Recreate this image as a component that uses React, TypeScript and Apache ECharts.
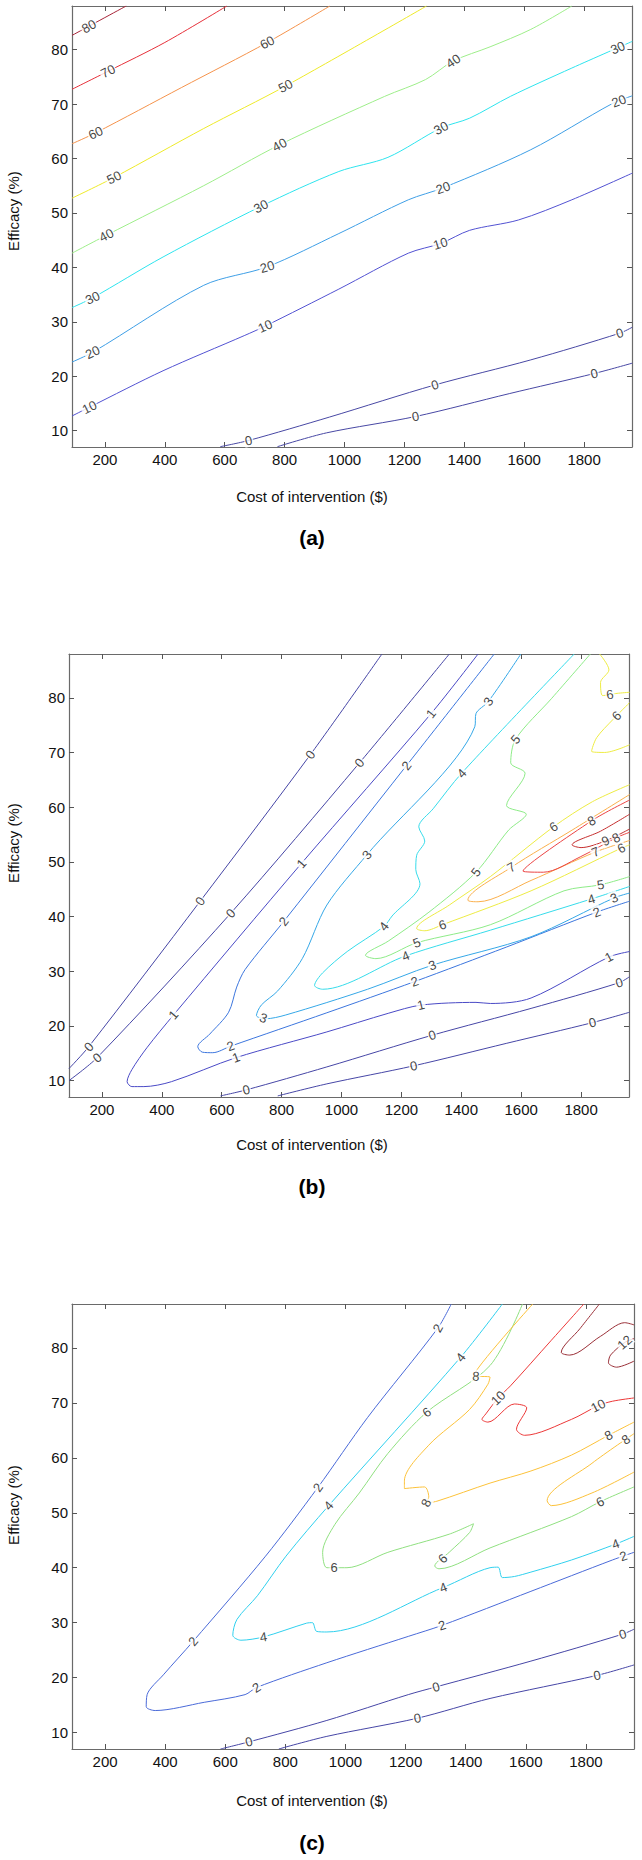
import React, { useEffect, useRef } from 'react';
import * as echarts from 'echarts';

const FONT = 'Liberation Sans, Arial, Helvetica, sans-serif';

// axes
const xTicks = [200, 400, 600, 800, 1000, 1200, 1400, 1600, 1800];
const yTicks = [10, 20, 30, 40, 50, 60, 70, 80];
const xMin = 90, xMax = 1960, yMin = 7, yMax = 88;
const xTitle = 'Cost of intervention ($)';
const yTitle = 'Efficacy (%)';
const panelNames = ['(a)', '(b)', '(c)'];

// ---------- panel (a) ----------
const a0u = [[585, 7.06], [680, 8.2], [950, 12.5], [1302, 18.4], [1622, 23.0], [1919, 27.9], [1961, 29.0]];
const a0l = [[776, 7.06], [940, 9.6], [1237, 12.6], [1550, 16.8], [1834, 20.5], [1961, 22.4]];
const a10 = [[90, 12.7], [148, 14.3], [394, 21.0], [667, 27.5], [735, 29.2], [981, 36.0], [1213, 42.6], [1322, 44.4], [1418, 46.8], [1581, 48.7], [1759, 52.4], [1961, 57.3]];
const a20 = [[90, 22.6], [159, 24.4], [530, 36.7], [742, 40.1], [981, 46.2], [1213, 52.4], [1329, 54.6], [1622, 61.6], [1895, 70.1], [1961, 71.5]];
const a30 = [[90, 32.6], [159, 34.4], [394, 41.9], [721, 51.2], [981, 57.6], [1145, 60.2], [1322, 65.6], [1418, 67.4], [1554, 71.4], [1759, 76.6], [1961, 81.5]];
const a40 = [[90, 42.6], [205, 45.9], [530, 55.0], [783, 62.5], [1134, 71.4], [1271, 74.5], [1363, 77.9], [1486, 80.5], [1622, 83.7], [1759, 88]];
const a50 = [[90, 52.7], [230, 56.5], [530, 65.5], [803, 73.3], [1274, 88]];
const a60 = [[90, 62.7], [169, 64.7], [455, 73.0], [742, 81.3], [951, 88]];
const a70 = [[90, 72.7], [210, 76.0], [400, 81.3], [607, 88]];
const a80 = [[90, 82.6], [271, 88]];
const aLines = [[0, a0u], [0, a0l], [10, a10], [20, a20], [30, a30], [40, a40], [50, a50], [60, a60], [70, a70], [80, a80]];
const aLabels = [
  [680, 8.2, 0], [1302, 18.4, 0], [1919, 27.9, 0], [1237, 12.6, 0], [1834, 20.5, 0],
  [148, 14.3, 10], [735, 29.2, 10], [1322, 44.0, 10],
  [159, 24.4, 20], [742, 40.1, 20], [1329, 54.6, 20], [1916, 70.6, 20],
  [159, 34.4, 30], [721, 51.2, 30], [1322, 65.6, 30], [1916, 79.9, 30],
  [205, 45.9, 40], [783, 62.5, 40], [1363, 77.9, 40],
  [230, 56.5, 50], [803, 73.3, 50],
  [169, 64.7, 60], [742, 81.3, 60],
  [210, 76.0, 70],
  [148, 84.1, 80],
];
const aColors = { 0: '#4848a4', 10: '#5252d2', 20: '#3f9fe6', 30: '#2ee4ee', 40: '#9eee8a', 50: '#eeea2a', 60: '#f5934c', 70: '#e6303a', 80: '#a8263a' };

// ---------- panel (b) ----------
const b0a = [[90, 12.2], [156, 16.2], [528, 42.8], [896, 69.6], [1135, 88]];
const b0b = [[90, 10.0], [184, 14.2], [630, 40.6], [1060, 68.1], [1360, 88]];
const b0u = [[596, 7.2], [682, 8.3], [951, 12.5], [1303, 18.3], [1633, 23.2], [1927, 27.9], [1962, 29.0]];
const b0l = [[787, 7.2], [951, 9.4], [1241, 12.7], [1550, 16.8], [1838, 20.6], [1962, 22.5]];
const b1 = [[1456, 88], [1299, 77.1], [866, 49.7], [439, 22.0], [350, 16.0], [300, 12.0], [284, 9.8], [300, 8.9], [340, 8.9], [432, 9.8], [648, 14.2], [951, 18.9], [1156, 22.3], [1265, 23.8], [1449, 24.3], [1497, 24.1], [1633, 25.1], [1893, 32.6], [1962, 33.6]];
const b2 = [[1510, 88], [1217, 67.6], [807, 39.1], [678, 30.3], [650, 27.1], [623, 22.5], [560, 18.5], [520, 16.2], [535, 15.2], [570, 15.1], [630, 16.3], [951, 22.4], [1244, 28.1], [1550, 34.4], [1852, 40.8], [1962, 42.8]];
const b3 = [[1599, 88], [1490, 79.3], [1449, 77.1], [1445, 74.7], [1085, 51.3], [951, 42.1], [869, 32.3], [787, 26.4], [732, 23.8], [716, 21.9], [746, 21.3], [814, 22.0], [1087, 26.7], [1303, 31.1], [1633, 36.3], [1910, 43.4], [1962, 44.3]];
const b4 = [[1777, 88], [1401, 66.2], [1306, 59.7], [1258, 56.4], [1278, 53.8], [1251, 51.2], [1248, 48.6], [1262, 46.0], [1169, 40.1], [1142, 38.2], [1019, 33.6], [937, 29.7], [910, 27.4], [937, 26.7], [1214, 32.8], [1497, 37.5], [1834, 43.2], [1962, 45.5]];
const b5 = [[1831, 88], [1702, 79.9], [1581, 72.4], [1565, 68.1], [1613, 66.2], [1551, 60.3], [1617, 58.7], [1558, 55.8], [1449, 48.1], [1292, 40.8], [1156, 35.5], [1080, 32.9], [1115, 32.3], [1251, 35.2], [1497, 38.5], [1743, 44.7], [1865, 45.8], [1962, 47.3]];
const b6 = [[1962, 64.1], [1838, 61.0], [1708, 56.4], [1497, 47.3], [1360, 42.1], [1251, 37.8], [1278, 37.4], [1337, 38.5], [1633, 44.7], [1934, 52.5], [1962, 53.1]];
const b6a = [[1862, 88], [1893, 85.1], [1865, 82.8], [1872, 80.4], [1920, 80.8], [1962, 81.0]];
const b6b = [[1962, 79.1], [1906, 76.0], [1852, 72.7], [1835, 70.2], [1879, 70.0], [1962, 71.4]];
const b7 = [[1962, 62.3], [1770, 55.8], [1567, 49.0], [1422, 43.0], [1456, 42.7], [1633, 46.6], [1848, 51.8], [1962, 53.9]];
const b8 = [[1962, 61.3], [1835, 57.5], [1606, 48.3], [1674, 48.1], [1797, 50.9], [1917, 54.4], [1962, 55.4]];
const b9 = [[1962, 58.7], [1865, 55.6], [1770, 53.1], [1800, 52.6], [1880, 53.8], [1962, 56.0]];
const bLines = [[0, b0a], [0, b0b], [0, b0u], [0, b0l], [1, b1], [2, b2], [3, b3], [4, b4], [5, b5], [6, b6], [6, b6a], [6, b6b], [7, b7], [8, b8], [9, b9]];
const bLabels = [
  [156, 16.2, 0], [528, 42.8, 0], [896, 69.6, 0], [184, 14.2, 0], [630, 40.6, 0], [1060, 68.1, 0],
  [682, 8.3, 0], [1303, 18.3, 0], [1927, 27.9, 0], [1241, 12.7, 0], [1838, 20.6, 0],
  [1299, 77.1, 1], [866, 49.7, 1], [439, 22.0, 1], [648, 14.2, 1], [1265, 23.8, 1], [1893, 32.6, 1],
  [1217, 67.6, 2], [807, 39.1, 2], [630, 16.3, 2], [1244, 28.1, 2], [1852, 40.8, 2],
  [1490, 79.3, 3], [1085, 51.3, 3], [746, 22.4, 3], [1303, 31.1, 3], [1910, 43.4, 3],
  [1401, 66.2, 4], [1142, 38.2, 4], [1214, 32.8, 4], [1834, 43.2, 4],
  [1581, 72.4, 5], [1449, 48.1, 5], [1251, 35.2, 5], [1865, 45.8, 5],
  [1708, 56.4, 6], [1337, 38.5, 6], [1934, 52.5, 6], [1899, 79.7, 6], [1920, 76.6, 6],
  [1567, 49.0, 7], [1848, 51.8, 7],
  [1835, 57.5, 8], [1917, 54.4, 8],
  [1875, 54.6, 9],
];
const bColors = { 0: '#4646a6', 1: '#4a4ac6', 2: '#3c76de', 3: '#35a8e8', 4: '#36dceb', 5: '#8eec88', 6: '#eeec44', 7: '#fbb04c', 8: '#ec4444', 9: '#c62e2e' };

// ---------- panel (c) ----------
const c0u = [[584, 7.0], [679, 8.3], [938, 12.2], [1209, 16.9], [1301, 18.3], [1617, 23.0], [1922, 27.9], [1960, 28.8]];
const c0l = [[778, 7.0], [938, 9.3], [1239, 12.6], [1481, 16.2], [1837, 20.4], [1960, 22.3]];
const c2 = [[1352, 88], [1307, 83.6], [1073, 67.3], [908, 54.6], [734, 42.1], [493, 26.6], [394, 20.5], [340, 16.9], [337, 14.7], [367, 14.0], [530, 15.5], [666, 16.9], [704, 18.2], [938, 22.7], [1209, 27.5], [1321, 29.5], [1617, 35.7], [1888, 41.4], [1960, 42.8]];
const c4 = [[1522, 88], [1383, 78.3], [944, 51.3], [802, 42.1], [707, 34.9], [639, 30.6], [625, 27.7], [652, 26.8], [727, 27.4], [870, 29.9], [890, 30.0], [904, 28.4], [938, 28.3], [1325, 36.4], [1481, 40.0], [1508, 40.1], [1522, 38.2], [1562, 38.4], [1617, 39.2], [1752, 41.4], [1899, 44.3], [1960, 45.7]];
const c6 = [[1589, 88], [1481, 76.8], [1270, 68.3], [1141, 60.8], [1046, 53.6], [965, 47.9], [924, 42.8], [938, 40.0], [1005, 40.0], [1141, 42.8], [1345, 46.1], [1426, 48.0], [1413, 46.4], [1345, 42.8], [1297, 40.3], [1311, 39.8], [1481, 43.6], [1752, 49.3], [1847, 52.0], [1960, 54.7]];
const c8a = [[1623, 88], [1426, 74.9], [1481, 74.7], [1474, 73.4], [1413, 68.8], [1277, 62.3], [1196, 55.8], [1196, 54.4], [1263, 54.7], [1277, 52.9], [1268, 51.8], [1304, 52.1], [1481, 55.4], [1617, 57.6], [1752, 60.5], [1875, 64.1], [1960, 66.5]];
const c8b = [[1960, 64.4], [1820, 59.0], [1671, 52.2], [1685, 51.3], [1820, 53.6], [1960, 57.4]];
const c10 = [[1793, 88], [1685, 81.4], [1549, 73.1], [1508, 70.9], [1467, 68.0], [1454, 67.0], [1474, 66.5], [1562, 69.8], [1603, 69.1], [1569, 65.2], [1596, 64.1], [1752, 67.0], [1841, 69.5], [1888, 70.3], [1960, 70.9]];
const c12a = [[1845, 88], [1780, 83.5], [1718, 79.2], [1746, 78.7], [1848, 82.1], [1929, 84.6], [1960, 84.2]];
const c12b = [[1960, 77.6], [1902, 76.5], [1875, 77.3], [1882, 78.7], [1929, 81.0], [1960, 81.7]];
const cLines = [[0, c0u], [0, c0l], [2, c2], [4, c4], [6, c6], [8, c8a], [8, c8b], [10, c10], [12, c12a], [12, c12b]];
const cLabels = [
  [679, 8.3, 0], [1301, 18.3, 0], [1922, 27.9, 0], [1239, 12.6, 0], [1837, 20.4, 0],
  [1307, 83.6, 2], [908, 54.6, 2], [493, 26.6, 2], [704, 18.2, 2], [1321, 29.5, 2], [1926, 41.9, 2],
  [1383, 78.3, 4], [944, 51.3, 4], [727, 27.4, 4], [1325, 36.4, 4], [1899, 44.3, 4],
  [1270, 68.3, 6], [962, 39.6, 6], [1321, 41.8, 6], [1847, 52.0, 6],
  [1433, 74.0, 8], [1268, 51.8, 8], [1875, 64.1, 8], [1936, 63.1, 8],
  [1508, 70.9, 10], [1841, 69.5, 10],
  [1929, 81.0, 12],
];
const cColors = { 0: '#4646a6', 2: '#4a6ad8', 4: '#30d0ee', 6: '#90e080', 8: '#fcc23a', 10: '#ec3838', 12: '#9a3038' };

const panels = [
  { lines: aLines, labels: aLabels, colors: aColors },
  { lines: bLines, labels: bLabels, colors: bColors },
  { lines: cLines, labels: cLabels, colors: cColors },
];

// layout
const geo = [
  { left: 72, top: 6, width: 560, height: 441, yTitleY: 211, xTitleY: 496, nameY: 537 },
  { left: 69, top: 654, width: 560, height: 443, yTitleY: 843, xTitleY: 1144, nameY: 1186 },
  { left: 72, top: 1304, width: 562, height: 445, yTitleY: 1505, xTitleY: 1800, nameY: 1842 },
];

function buildOption(labelPos: any) {
  const grid: any[] = [], xAxis: any[] = [], yAxis: any[] = [], series: any[] = [], graphic: any[] = [];
  const frame = { show: true, onZero: false, lineStyle: { color: '#6a6a6a', width: 1.2 } };
  const tick = { show: true, inside: true, length: 5, lineStyle: { color: '#555', width: 1 } };
  const plain = (v: number) => String(v);
  geo.forEach((g, i) => {
    grid.push({ left: g.left, top: g.top, width: g.width, height: g.height, containLabel: false });
    xAxis.push({ type: 'value', gridIndex: i, min: xMin, max: xMax, position: 'bottom', axisLine: frame,
      axisTick: { ...tick, customValues: xTicks }, splitLine: { show: false },
      axisLabel: { show: true, customValues: xTicks, formatter: plain, color: '#111', fontSize: 15, fontFamily: FONT, margin: 5 } });
    xAxis.push({ type: 'value', gridIndex: i, min: xMin, max: xMax, position: 'top', axisLine: frame,
      axisTick: { ...tick, customValues: xTicks }, splitLine: { show: false }, axisLabel: { show: false } });
    yAxis.push({ type: 'value', gridIndex: i, min: yMin, max: yMax, position: 'left', axisLine: frame,
      axisTick: { ...tick, customValues: yTicks }, splitLine: { show: false },
      axisLabel: { show: true, customValues: yTicks, formatter: plain, color: '#111', fontSize: 15, fontFamily: FONT, margin: 4 } });
    yAxis.push({ type: 'value', gridIndex: i, min: yMin, max: yMax, position: 'right', axisLine: frame,
      axisTick: { ...tick, customValues: yTicks }, splitLine: { show: false }, axisLabel: { show: false } });
    const p = panels[i];
    p.lines.forEach((ln: any) => {
      series.push({ type: 'line', xAxisIndex: 2 * i, yAxisIndex: 2 * i, data: ln[1], symbol: 'none', showSymbol: false,
        smooth: 0.3, clip: true, silent: true, z: 2, lineStyle: { color: (p.colors as any)[ln[0]], width: 1 } });
    });
    series.push({ type: 'scatter', xAxisIndex: 2 * i, yAxisIndex: 2 * i, symbolSize: 1, silent: true, z: 5,
      itemStyle: { color: 'rgba(0,0,0,0)' },
      label: { show: true, position: 'inside', fontSize: 13, fontFamily: FONT, color: '#111', backgroundColor: '#fff', padding: [0, 1, 0, 1] },
      data: p.labels.map((lb: any, k: number) => ({
        value: labelPos ? labelPos[i][k].value : [lb[0], lb[1]],
        label: { formatter: String(lb[2]), rotate: labelPos ? labelPos[i][k].rotate : 0 },
      })) });
    const cx = 312;
    graphic.push({ type: 'text', x: 13, y: g.yTitleY, rotation: Math.PI / 2,
      style: { text: yTitle, fontSize: 15, fontFamily: FONT, fill: '#111', textAlign: 'center', textVerticalAlign: 'middle' } });
    graphic.push({ type: 'text', x: cx, y: g.xTitleY,
      style: { text: xTitle, fontSize: 15, fontFamily: FONT, fill: '#111', textAlign: 'center', textVerticalAlign: 'middle' } });
    graphic.push({ type: 'text', x: cx, y: g.nameY,
      style: { text: panelNames[i], fontSize: 21, fontWeight: 'bold', fontFamily: FONT, fill: '#000', textAlign: 'center', textVerticalAlign: 'middle' } });
  });
  return { animation: false, backgroundColor: '#fff', grid, xAxis, yAxis, series, graphic };
}

export default function App() {
  const ref = useRef<HTMLDivElement>(null);
  useEffect(() => {
    const chart = echarts.init(ref.current as HTMLDivElement, null, { renderer: 'svg' });
    chart.setOption(buildOption(null));
    // snap each contour label onto its line and orient it along the line
    let seriesStart = 0;
    const labelPos = panels.map((p, i) => {
      const finder = { seriesIndex: seriesStart };
      seriesStart += p.lines.length + 1;
      const toPx = (d: number[]) => chart.convertToPixel(finder, d) as number[];
      return p.labels.map((lb: any) => {
        const P = toPx([lb[0], lb[1]]);
        let best: any = null;
        p.lines.forEach((ln: any) => {
          if (ln[0] !== lb[2]) return;
          const pts = ln[1];
          for (let k = 0; k < pts.length - 1; k++) {
            const A = toPx(pts[k]), B = toPx(pts[k + 1]);
            const dx = B[0] - A[0], dy = B[1] - A[1];
            const L2 = dx * dx + dy * dy || 1;
            let t = ((P[0] - A[0]) * dx + (P[1] - A[1]) * dy) / L2;
            t = Math.max(0, Math.min(1, t));
            const Q = [A[0] + t * dx, A[1] + t * dy];
            const dist = Math.hypot(Q[0] - P[0], Q[1] - P[1]);
            if (!best || dist < best.dist) best = { dist, Q, dx, dy };
          }
        });
        if (!best) return { value: [lb[0], lb[1]], rotate: 0 };
        let ang = -Math.atan2(best.dy, best.dx) * 180 / Math.PI;
        if (ang > 90) ang -= 180;
        if (ang < -90) ang += 180;
        const D = chart.convertFromPixel(finder, best.Q) as number[];
        return { value: D, rotate: ang };
      });
    });
    chart.setOption(buildOption(labelPos));
    return () => chart.dispose();
  }, []);
  return <div ref={ref} style={{ position: 'absolute', left: 0, top: 0, width: 642, height: 1860 }} />;
}
